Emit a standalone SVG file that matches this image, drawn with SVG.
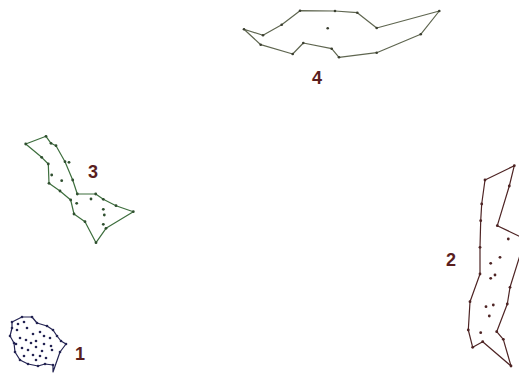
<svg xmlns="http://www.w3.org/2000/svg" width="519" height="379" viewBox="0 0 519 379">
<style>
.hull{fill:none;stroke-width:1.2;stroke-linejoin:round}
.lbl{font-family:"Liberation Sans",Arial,sans-serif;font-size:18px;font-weight:bold;fill:#5a1e1e}
.c1{stroke:#232352} .d1{fill:#232352}
.c2{stroke:#4e2424} .d2{fill:#4e2424}
.c3{stroke:#3d6e3d} .d3{fill:#2f4f2f}
.c4{stroke:#5f6650} .d4{fill:#3b3f30}
</style>
<rect width="519" height="379" fill="#ffffff"/>
<g id="connectors">
<polygon class="hull c4" points="244,29.3 263,35.3 281.7,24.7 300,10.7 335,11 357.3,12.7 376.7,28 439.3,11 420.7,34.3 376.7,52.7 339,57.3 331.7,48.7 303.3,43 292.7,54 260.7,44.7"/>
<polygon class="hull c3" points="25.7,144 46,136.3 51,143.3 56,145.7 65,161.7 72.7,180 77.3,194 95.7,194 103.3,199.3 116,205.7 133.3,211.7 106,228.3 96,242.7 85,221.7 74,214 70.7,200 60,191 49,183.3 48.3,164 41.7,157.3"/>
<polygon class="hull c2" points="514.3,165.7 485,180 481.7,204 480.7,220.7 480,247.3 480,274 470,301.7 468.3,330 472.7,347.3 482.7,341.7 511,366 503.3,339.3 496.7,331.7 507.3,304 510,287.3 521,252 521,237 497.3,225.7 509.3,186"/>
<polyline class="hull c1" points="12,328 12,322 22,317 32,317 37,323 47,326 53,330 57,336 61,341 66,344 60,352 53,372 53,365 45,364 38,366 28,364 20,360 15,352 14,343 10,336 12,328"/>
</g>
<g id="node4">
<g class="d4">
<circle cx="244" cy="29.3" r="1.3"/><circle cx="263" cy="35.3" r="1.3"/><circle cx="281.7" cy="24.7" r="1.3"/><circle cx="300" cy="10.7" r="1.3"/><circle cx="335" cy="11" r="1.3"/><circle cx="357.3" cy="12.7" r="1.3"/><circle cx="376.7" cy="28" r="1.3"/><circle cx="439.3" cy="11" r="1.3"/><circle cx="420.7" cy="34.3" r="1.3"/><circle cx="376.7" cy="52.7" r="1.3"/><circle cx="339" cy="57.3" r="1.3"/><circle cx="331.7" cy="48.7" r="1.3"/><circle cx="303.3" cy="43" r="1.3"/><circle cx="292.7" cy="54" r="1.3"/><circle cx="260.7" cy="44.7" r="1.3"/><circle cx="327.7" cy="28.3" r="1.3"/>
</g>
<text class="lbl" x="312" y="84">4</text>
</g>
<g id="node3">
<g class="d3">
<circle cx="25.7" cy="144" r="1.4"/><circle cx="46" cy="136.3" r="1.4"/><circle cx="51" cy="143.3" r="1.4"/><circle cx="56" cy="145.7" r="1.4"/><circle cx="65" cy="161.7" r="1.4"/><circle cx="69" cy="162.3" r="1.4"/><circle cx="72.7" cy="180" r="1.4"/><circle cx="77.3" cy="194" r="1.4"/><circle cx="95.7" cy="194" r="1.4"/><circle cx="103.3" cy="199.3" r="1.4"/><circle cx="116" cy="205.7" r="1.4"/><circle cx="133.3" cy="211.7" r="1.4"/><circle cx="106" cy="228.3" r="1.4"/><circle cx="96" cy="242.7" r="1.4"/><circle cx="85" cy="221.7" r="1.4"/><circle cx="74" cy="214" r="1.4"/><circle cx="70.7" cy="200" r="1.4"/><circle cx="60" cy="191" r="1.4"/><circle cx="49" cy="183.3" r="1.4"/><circle cx="48.3" cy="164" r="1.4"/><circle cx="41.7" cy="157.3" r="1.4"/>
<circle cx="51.7" cy="175" r="1.4"/><circle cx="61.7" cy="180.7" r="1.4"/><circle cx="76.7" cy="203.3" r="1.4"/><circle cx="91" cy="199" r="1.4"/><circle cx="103.3" cy="209.3" r="1.4"/><circle cx="104.3" cy="215" r="1.4"/><circle cx="103.3" cy="224.3" r="1.4"/>
</g>
<text class="lbl" x="88" y="178">3</text>
</g>
<g id="node2">
<g class="d2">
<circle cx="514.3" cy="165.7" r="1.4"/><circle cx="485" cy="180" r="1.4"/><circle cx="481.7" cy="204" r="1.4"/><circle cx="480.7" cy="220.7" r="1.4"/><circle cx="480" cy="247.3" r="1.4"/><circle cx="480" cy="274" r="1.4"/><circle cx="470" cy="301.7" r="1.4"/><circle cx="468.3" cy="330" r="1.4"/><circle cx="472.7" cy="347.3" r="1.4"/><circle cx="482.7" cy="341.7" r="1.4"/><circle cx="511" cy="366" r="1.4"/><circle cx="503.3" cy="339.3" r="1.4"/><circle cx="496.7" cy="331.7" r="1.4"/><circle cx="507.3" cy="304" r="1.4"/><circle cx="510" cy="287.3" r="1.4"/><circle cx="497.3" cy="225.7" r="1.4"/><circle cx="509.3" cy="186" r="1.4"/>
<circle cx="508.3" cy="239" r="1.4"/><circle cx="500" cy="257.3" r="1.4"/><circle cx="490.7" cy="263.3" r="1.4"/><circle cx="495" cy="275" r="1.4"/><circle cx="490.7" cy="278.3" r="1.4"/><circle cx="486" cy="306.7" r="1.4"/><circle cx="493.3" cy="305" r="1.4"/><circle cx="489.3" cy="316" r="1.4"/><circle cx="480.7" cy="332.7" r="1.4"/>
</g>
<text class="lbl" x="446" y="266">2</text>
</g>
<g id="node1">
<g class="d1">
<circle cx="12" cy="322" r="1.3"/><circle cx="22" cy="317" r="1.3"/><circle cx="32" cy="317" r="1.3"/><circle cx="37" cy="323" r="1.3"/><circle cx="47" cy="326" r="1.3"/><circle cx="53" cy="330" r="1.3"/><circle cx="57" cy="336" r="1.3"/><circle cx="61" cy="341" r="1.3"/><circle cx="66" cy="344" r="1.3"/><circle cx="60" cy="352" r="1.3"/><circle cx="53" cy="365" r="1.3"/><circle cx="45" cy="364" r="1.3"/><circle cx="38" cy="366" r="1.3"/><circle cx="28" cy="364" r="1.3"/><circle cx="20" cy="360" r="1.3"/><circle cx="15" cy="352" r="1.3"/><circle cx="14" cy="343" r="1.3"/><circle cx="10" cy="336" r="1.3"/><circle cx="12" cy="328" r="1.3"/>
<circle cx="18" cy="324" r="1.3"/><circle cx="24" cy="322" r="1.3"/><circle cx="17" cy="330" r="1.3"/><circle cx="27" cy="328" r="1.3"/><circle cx="33" cy="334" r="1.3"/><circle cx="40" cy="332" r="1.3"/><circle cx="44" cy="336" r="1.3"/><circle cx="50" cy="338" r="1.3"/><circle cx="20" cy="338" r="1.3"/><circle cx="26" cy="340" r="1.3"/><circle cx="31" cy="343" r="1.3"/><circle cx="36" cy="341" r="1.3"/><circle cx="36" cy="347" r="1.3"/><circle cx="44" cy="344" r="1.3"/><circle cx="51" cy="346" r="1.3"/><circle cx="52" cy="350" r="1.3"/><circle cx="22" cy="348" r="1.3"/><circle cx="28" cy="350" r="1.3"/><circle cx="33" cy="355" r="1.3"/><circle cx="40" cy="356" r="1.3"/><circle cx="46" cy="358" r="1.3"/><circle cx="36" cy="360" r="1.3"/><circle cx="24" cy="356" r="1.3"/><circle cx="42" cy="351" r="1.3"/><circle cx="16" cy="344" r="1.3"/>
</g>
<text class="lbl" x="75" y="360">1</text>
</g>
</svg>
